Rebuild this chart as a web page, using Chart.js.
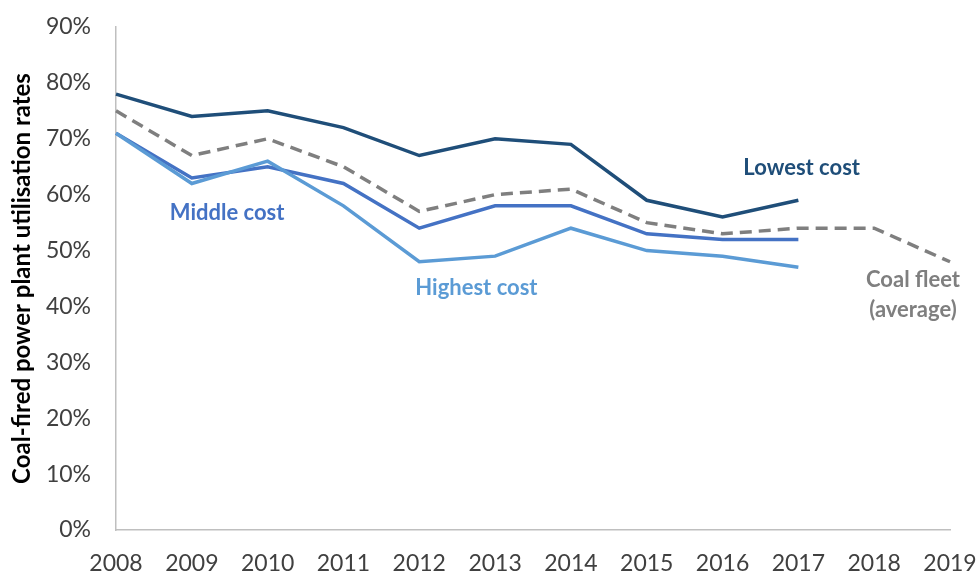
<!DOCTYPE html>
<html>
<head>
<meta charset="utf-8">
<script src="https://cdn.jsdelivr.net/npm/chart.js@4"></script>
<style>
  html, body { margin: 0; padding: 0; background: #fff; }
</style>
</head>
<body>
<canvas id="chart" width="978" height="574"></canvas>
<script>
const years = ["2008", "2009", "2010", "2011", "2012", "2013", "2014", "2015", "2016", "2017", "2018", "2019"];

// utilisation rates, %
const lowestCost = [78, 74, 75, 72, 67, 70, 69, 59, 56, 59, null, null];
const middleCost = [71, 63, 65, 62, 54, 58, 58, 53, 52, 52, null, null];
const highestCost = [71, 62, 66, 58, 48, 49, 54, 50, 49, 47, null, null];
const fleetAverage = [75, 67, 70, 65, 57, 60, 61, 55, 53, 54, 54, 48];

const FONT = "Lato, 'Open Sans', sans-serif";

// inline labels, anchored in data space (year index, value) plus a pixel nudge
const seriesLabels = [
  { lines: ["Lowest cost"], x: 9, y: 59, dx: -55, dy: -32, color: "#1f4e79", align: "left" },
  { lines: ["Middle cost"], x: 1, y: 63, dx: -22, dy: 35, color: "#4472c4", align: "left" },
  { lines: ["Highest cost"], x: 4, y: 48, dx: -4, dy: 26, color: "#5b9bd5", align: "left" },
  { lines: ["Coal fleet", "(average)"], x: 11, y: 48, dx: -37, dy: 18, color: "#7f7f7f", align: "center" },
];

const labelPlugin = {
  id: "seriesLabels",
  afterDatasetsDraw(chart) {
    const { ctx, scales } = chart;
    ctx.save();
    ctx.font = `bold 22px ${FONT}`;
    ctx.textBaseline = "middle";
    seriesLabels.forEach((l) => {
      const px = scales.x.getPixelForValue(l.x) + l.dx;
      const py = scales.y.getPixelForValue(l.y) + l.dy;
      ctx.fillStyle = l.color;
      ctx.textAlign = l.align;
      l.lines.forEach((t, i) => ctx.fillText(t, px, py + i * 30));
    });
    ctx.restore();
  },
};

function line(label, data, color, dash) {
  return {
    label,
    data,
    borderColor: color,
    backgroundColor: color,
    borderWidth: 3.5,
    borderDash: dash || [],
    pointRadius: 0,
    tension: 0,
    spanGaps: false,
  };
}

new Chart(document.getElementById("chart"), {
  type: "line",
  data: {
    labels: years,
    datasets: [
      line("Coal fleet (average)", fleetAverage, "#7f7f7f", [12, 7]),
      line("Highest cost", highestCost, "#5b9bd5"),
      line("Middle cost", middleCost, "#4472c4"),
      line("Lowest cost", lowestCost, "#1f4e79"),
    ],
  },
  options: {
    responsive: false,
    animation: false,
    layout: { padding: { top: 27, right: 28, left: 0, bottom: 0 } },
    plugins: { legend: { display: false }, tooltip: { enabled: false } },
    scales: {
      x: {
        grid: { display: false, drawTicks: false },
        border: { color: "#bfbfbf", width: 1.5 },
        ticks: { color: "#404040", font: { family: FONT, size: 23 }, padding: 20, maxRotation: 0, autoSkip: false },
        afterFit: (s) => {
          s.height = 44;
          s.paddingLeft = 0;
          s.paddingRight = 0;
        },
      },
      y: {
        min: 0,
        max: 90,
        grid: { display: false, drawTicks: false },
        border: { color: "#bfbfbf", width: 1.5 },
        ticks: {
          stepSize: 10,
          color: "#404040",
          font: { family: FONT, size: 23 },
          padding: 25,
          callback: (v) => `${v}%`,
        },
        title: {
          display: true,
          text: "Coal-fired power plant utilisation rates",
          color: "#000",
          font: { family: FONT, size: 24, weight: "bold" },
          padding: { top: 8, bottom: 0 },
        },
        afterFit: (s) => {
          s.width = 116;
          s.paddingTop = 0;
          s.paddingBottom = 0;
        },
      },
    },
  },
  plugins: [labelPlugin],
});
</script>
</body>
</html>
